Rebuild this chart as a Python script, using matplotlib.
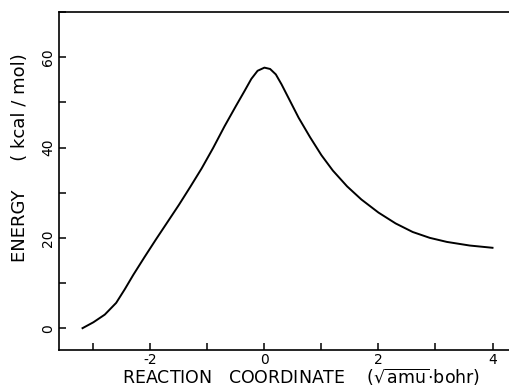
import numpy as np
import matplotlib
matplotlib.use("Agg")
from matplotlib import pyplot as plt
from matplotlib.ticker import MultipleLocator

plt.rcParams['axes.unicode_minus'] = False

# points
x = [-3.19, -3.0, -2.8, -2.6, -2.45, -2.3, -2.1, -1.9, -1.7, -1.5,
     -1.3, -1.1, -0.9, -0.7, -0.5, -0.35, -0.23, -0.12, 0.0, 0.1,
     0.2, 0.3, 0.45, 0.6, 0.8, 1.0, 1.2, 1.45, 1.7, 2.0,
     2.3, 2.6, 2.9, 3.2, 3.6, 4.0]
y = [0.0, 1.3, 3.0, 5.6, 8.6, 11.8, 15.8, 19.7, 23.5, 27.3,
     31.3, 35.4, 39.9, 44.7, 49.2, 52.5, 55.2, 57.0, 57.7, 57.4,
     56.2, 54.0, 50.3, 46.6, 42.3, 38.3, 34.9, 31.4, 28.5, 25.6,
     23.2, 21.3, 20.0, 19.1, 18.3, 17.8]

fig = plt.figure(figsize=(5.1, 3.9), dpi=100)
ax = fig.add_axes([0.116, 0.103, 0.90, 0.866])
ax.plot(x, y, color='black', lw=1.4, solid_joinstyle='round')

ax.set_xlim(-3.6, 4.45)
ax.set_ylim(-4.8, 70)
ax.set_xticks([-2, 0, 2, 4])
ax.set_xticklabels(['-2', '0', '2', '4'])
ax.xaxis.set_minor_locator(MultipleLocator(1))
ax.set_yticks([0, 20, 40, 60])
ax.set_yticklabels(['0', '20', '40', '60'], rotation=90, va='center')
ax.yaxis.set_minor_locator(MultipleLocator(10))
ax.tick_params(which='both', direction='in', top=False, right=False,
               labelsize=10, length=5, width=1.1)
ax.tick_params(axis='x', pad=2)
ax.tick_params(axis='y', pad=3)
for s in ax.spines.values():
    s.set_linewidth(1.2)

ax.set_xlabel(r'REACTION   COORDINATE    ($\sqrt{\mathrm{amu}}$$\cdot$bohr)', fontsize=12.5)
ax.xaxis.set_label_coords(0.526, -0.052)
ax.set_ylabel('ENERGY     ( kcal / mol)', fontsize=13)
ax.yaxis.set_label_coords(-0.066, 0.57)

fig.savefig('out.png', dpi=100)
